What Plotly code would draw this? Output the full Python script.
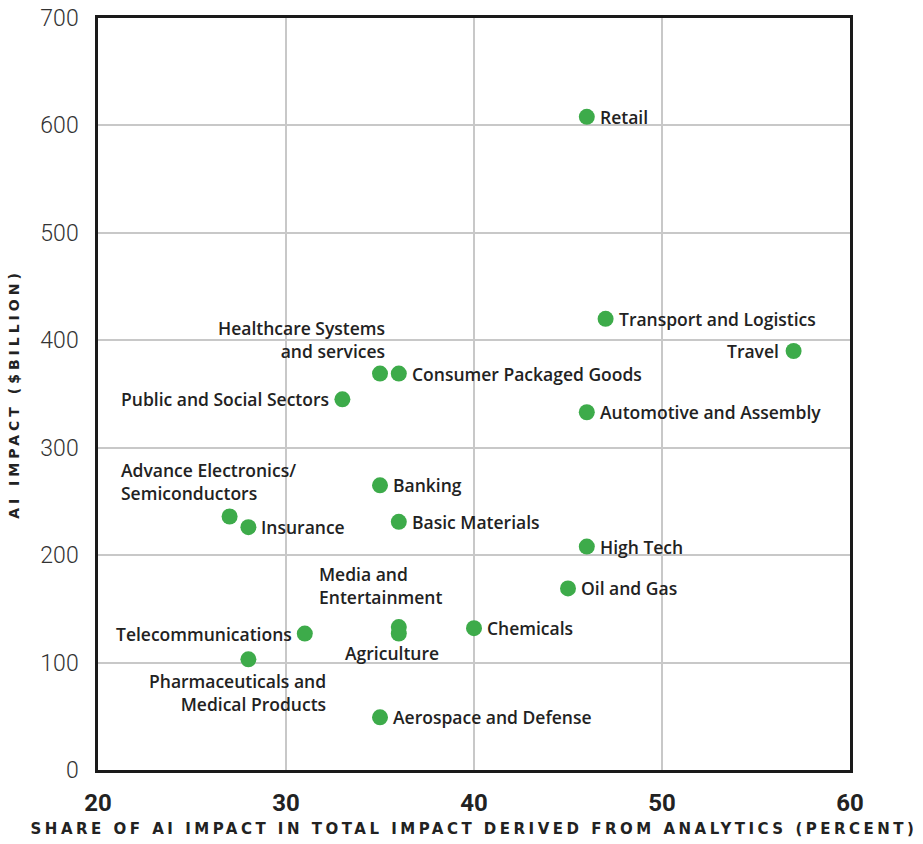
import plotly.graph_objects as go

# Industry sectors: share of AI impact from analytics (%) vs. AI impact ($ billion)
sectors = [
    "Retail", "Transport and Logistics", "Travel",
    "Healthcare Systems<br>and services", "Consumer Packaged Goods",
    "Public and Social Sectors", "Automotive and Assembly", "Banking",
    "Basic Materials", "Advance Electronics/<br>Semiconductors", "Insurance",
    "High Tech", "Oil and Gas", "Telecommunications",
    "Media and<br>Entertainment", "Agriculture", "Chemicals",
    "Pharmaceuticals and<br>Medical Products", "Aerospace and Defense",
]
share_pct = [46, 47, 57, 35, 36, 33, 46, 35, 36, 27, 28, 46, 45, 31, 36, 36, 40, 28, 35]
impact_bn = [608, 420, 390, 369, 369, 345, 333, 265, 231, 236, 226, 208, 169, 127, 133, 127, 132, 103, 49]

x_ticks = [20, 30, 40, 50, 60]
y_ticks = [0, 100, 200, 300, 400, 500, 600, 700]

# label placement: (xanchor, yanchor, align, xshift, yshift)
placement = {
    "Travel": ("right", "middle", "right", -13, 0),
    "Healthcare Systems<br>and services": ("right", "bottom", "right", 7, 9),
    "Public and Social Sectors": ("right", "middle", "right", -11, 0),
    "Advance Electronics/<br>Semiconductors": ("left", "bottom", "left", -111, 9),
    "Telecommunications": ("right", "middle", "right", -11, 0),
    "Media and<br>Entertainment": ("left", "bottom", "left", -82, 16),
    "Agriculture": ("center", "top", "center", -7, -5),
    "Pharmaceuticals and<br>Medical Products": ("right", "top", "right", 80, -8),
}

GREEN = "#3dab4a"
LABEL_FONT = dict(family="Open Sans, sans-serif", size=17.5, color="#222222", weight=600)


def tracked(text, px):
    return f'<span style="letter-spacing:{px}px">{text}</span>'


fig = go.Figure()
fig.add_trace(go.Scatter(
    x=share_pct, y=impact_bn, mode="markers",
    marker=dict(size=16, color=GREEN, line=dict(width=0)),
    hovertext=sectors, hoverinfo="text", showlegend=False,
))

for name, xv, yv in zip(sectors, share_pct, impact_bn):
    xa, ya, al, xs, ys = placement.get(name, ("left", "middle", "left", 11, 0))
    fig.add_annotation(
        x=xv, y=yv, text=name, showarrow=False,
        xanchor=xa, yanchor=ya, align=al, xshift=xs, yshift=ys,
        font=LABEL_FONT,
    )

fig.update_layout(
    width=923, height=844,
    margin=dict(l=98, r=73, t=18, b=74),
    paper_bgcolor="white", plot_bgcolor="white",
    xaxis=dict(
        range=[20, 60], tickvals=x_ticks, ticktext=[str(v) for v in x_ticks],
        showgrid=True, gridcolor="#c8c8c8", gridwidth=1.5, zeroline=False,
        showline=True, linecolor="#1a1a1a", linewidth=2.5, mirror=True,
        ticks="", ticklabelstandoff=9, automargin=False,
        tickfont=dict(family="Roboto, sans-serif", size=24, color="#222222", weight="bold"),
        title=dict(text=tracked("SHARE OF AI IMPACT IN TOTAL IMPACT DERIVED FROM ANALYTICS (PERCENT)", 3.5),
                   standoff=8,
                   font=dict(family="DejaVu Sans, sans-serif", size=15, color="#222222", weight="bold")),
    ),
    yaxis=dict(
        range=[0, 700], tickvals=y_ticks, ticktext=[str(v) for v in y_ticks],
        showgrid=True, gridcolor="#c8c8c8", gridwidth=1.5, zeroline=False,
        showline=True, linecolor="#1a1a1a", linewidth=2.5, mirror=True,
        ticks="", ticklabelstandoff=12, automargin=False,
        tickfont=dict(family="Roboto, sans-serif", size=23, color="#333333", weight=300),
        title=dict(text=tracked("AI IMPACT ($BILLION)", 4), standoff=18,
                   font=dict(family="DejaVu Sans, sans-serif", size=14, color="#222222", weight="bold")),
    ),
)

fig.write_html("out.html")
